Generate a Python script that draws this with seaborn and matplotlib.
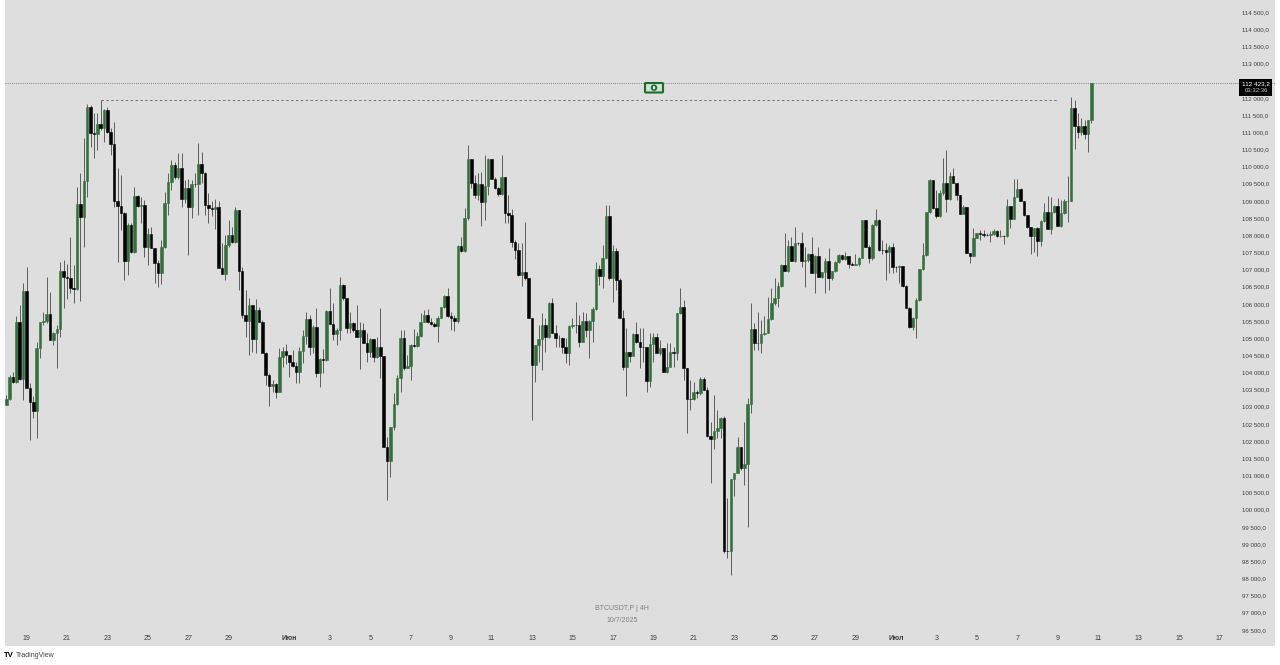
import matplotlib
matplotlib.use("Agg")
import matplotlib.pyplot as plt
import pandas as pd
import seaborn as sns
from matplotlib.patches import Ellipse, FancyBboxPatch, Rectangle

SYMBOL_TEXT = "BTCUSDT.P | 4H"
DATE_TEXT = "10/7/2025"
START = "2025-05-18"
FIRST_OPEN = 103040
LAST_PRICE = 112423.2
PREV_HIGH = 111940

closes = [
    103220, 103860, 103730, 105460, 103800, 106380, 103540, 103130, 102890, 104700,
    105460, 105510, 105700, 104950, 105140, 105260, 106960, 106770, 106760, 106450,
    106440, 108910, 108520, 109590, 111740, 110990, 110940, 111230, 111110, 111650,
    111010, 110660, 109000, 108860, 108640, 107250, 108300, 107520, 109140, 108860,
    108880, 107660, 108020, 107620, 107180, 106910, 107640, 108930, 109560, 110040,
    109700, 109950, 109040, 109360, 108810, 109490, 109480, 110070, 109800, 108880,
    108780, 108750, 108810, 107030, 106870, 107710, 107990, 107810, 108730, 106960,
    105660, 105510, 105970, 104980, 105820, 105460, 104580, 103930, 103610, 103660,
    103440, 104460, 104630, 104510, 104310, 104200, 104000, 104630, 105060, 105550,
    104750, 105330, 103970, 104380, 104360, 105790, 105410, 105110, 105240, 106550,
    106160, 105300, 105450, 105240, 105020, 105240, 104850, 104610, 104960, 104460,
    104750, 104480, 101840, 101430, 102420, 103070, 103830, 105010, 104140, 104200,
    104800, 104780, 105070, 105480, 105670, 105480, 105410, 105350, 105600, 105900,
    106230, 105650, 105600, 105500, 107680, 107550, 108490, 110210, 109510, 109170,
    109480, 108960, 109440, 110220, 109650, 109360, 109190, 109680, 108650, 108590,
    107810, 107570, 106840, 106940, 106740, 105580, 104220, 104800, 104970, 105380,
    105040, 106010, 105160, 104990, 105010, 104750, 104560, 105350, 105380, 105370,
    104900, 105510, 105240, 105510, 105840, 107000, 106810, 107340, 108570, 106740,
    107540, 106690, 105580, 104170, 104610, 104490, 105110, 104900, 104750, 104740,
    103750, 104830, 105040, 104580, 104700, 104020, 104170, 104590, 104560, 105740,
    105900, 104140, 103230, 103220, 103420, 103410, 103800, 103490, 102160, 102050,
    102300, 102370, 102660, 98810, 98800, 100890, 101080, 101840, 101210, 101330,
    103080, 105260, 104850, 104850, 105110, 105140, 105550, 106010, 106160, 106520,
    107130, 106960, 107680, 107260, 107780, 107760, 107260, 107280, 107440, 106890,
    107400, 106790, 106940, 107260, 106740, 106960, 107230, 107420, 107300, 107390,
    107150, 107130, 107170, 107340, 108440, 107660, 107320, 108300, 108440, 107570,
    107560, 107510, 107660, 107080, 107060, 107110, 106530, 105890, 105310, 105600,
    106110, 107000, 107410, 108660, 109610, 108780, 108560, 109220, 109530, 109050,
    109720, 109530, 109170, 108630, 108810, 107490, 107400, 107930, 108050, 108020,
    108010, 108000, 108030, 108130, 107980, 107980, 107970, 108850, 108470, 109120,
    109330, 109000, 108590, 108230, 107970, 108200, 107830, 108420, 108680, 108180,
    108680, 108850, 108280, 108650, 108990, 109000, 111690, 111180, 111000, 111180,
    110940, 111350, 112423.2,
]

highs = [
    103340, 103930, 104020, 105630, 105970, 106600, 107080, 103700, 103300, 104900,
    105480, 105770, 106790, 106350, 105190, 105380, 107230, 107280, 107160, 107940,
    107130, 109410, 109800, 110820, 111820, 111790, 111550, 111570, 111940, 111670,
    111720, 111110, 111310, 109950, 109750, 108680, 108340, 108340, 109410, 109160,
    109120, 109020, 108200, 108250, 107620, 107280, 107860, 109270, 109800, 110190,
    110140, 110380, 110380, 109610, 109630, 109610, 109800, 110670, 110430, 109850,
    109220, 108980, 109040, 108980, 107760, 108000, 108440, 108250, 108830, 108730,
    107080, 106400, 106160, 105970, 106130, 105920, 105530, 104610, 103970, 103780,
    103680, 104700, 104750, 104830, 104510, 104650, 104310, 104750, 105240, 105770,
    105670, 105380, 105870, 104420, 104670, 105820, 106450, 106010, 105290, 106770,
    106570, 106160, 105770, 105480, 105970, 105480, 105430, 105140, 104990, 104960,
    105040, 105870, 104480, 102130, 102420, 103390, 103930, 105240, 105240, 104510,
    104830, 105260, 105190, 105720, 105820, 105840, 105580, 105480, 105630, 105920,
    106260, 106450, 105770, 105670, 107710, 107960, 108780, 110630, 110210, 109750,
    109800, 109850, 110330, 110240, 110220, 109680, 109410, 110330, 109680, 109170,
    108750, 107860, 107760, 107760, 108380, 106740, 105580, 104800, 105380, 105720,
    105580, 106060, 106160, 105380, 105090, 105040, 104990, 105380, 105580, 106060,
    105670, 105770, 105720, 105530, 105920, 107230, 107130, 107710, 108880, 108880,
    107710, 107620, 106740, 105820, 105290, 104610, 105140, 105480, 105290, 105290,
    104750, 105140, 105140, 105140, 104950, 104700, 104850, 104850, 104750, 105740,
    106450, 106110, 104140, 103780, 103730, 103490, 103880, 103880, 103590, 102570,
    103340, 102910, 102710, 102730, 100330, 100890, 101080, 102130, 101840, 102570,
    103250, 106010, 105430, 105770, 105530, 105630, 106210, 106450, 106740, 106640,
    107160, 108050, 107860, 107940, 108230, 107810, 108100, 107660, 107470, 107940,
    107420, 107640, 106940, 107320, 107620, 106960, 107260, 107440, 107420, 107500,
    107390, 107230, 107450, 107370, 108440, 108440, 107710, 108320, 108750, 108460,
    107860, 107760, 107710, 107760, 107100, 107130, 107110, 106550, 105920, 105620,
    106160, 107000, 107760, 108680, 109650, 109610, 109310, 109310, 110240, 110480,
    109850, 109950, 109530, 109170, 108880, 108830, 107490, 108200, 108070, 108150,
    108150, 108050, 108130, 108170, 108150, 108150, 108000, 109040, 108850, 109650,
    109650, 109360, 109000, 108590, 108230, 108200, 108230, 108440, 108930, 109140,
    109120, 108880, 109070, 109020, 109040, 109720, 112010, 111940, 111550, 111400,
    111340, 111350, 112423.2,
]

lows = [
    103040, 103200, 103700, 103680, 103780, 103200, 103540, 102030, 102660, 102080,
    104410, 105380, 105430, 104950, 104800, 104120, 105040, 105870, 106130, 106310,
    106030, 106400, 106090, 107660, 109120, 110580, 110240, 110480, 111060, 110700,
    110970, 110330, 108830, 107230, 108150, 106690, 106840, 107470, 107470, 108830,
    108340, 107370, 107130, 107620, 106620, 106480, 106580, 107620, 108590, 109310,
    109650, 109650, 108810, 108930, 107420, 108490, 109410, 108590, 109510, 108590,
    108340, 108560, 108170, 107030, 106870, 106690, 107660, 107760, 107760, 106400,
    105580, 105040, 104510, 104610, 104560, 105460, 104560, 103640, 103020, 103440,
    103250, 103420, 104170, 104250, 103860, 104170, 103680, 103680, 104270, 104830,
    104510, 104560, 103880, 103590, 103970, 104340, 105410, 104950, 104800, 104950,
    106110, 105160, 105160, 105190, 105020, 104090, 104850, 104310, 104460, 104310,
    104410, 103830, 101840, 100280, 100960, 102320, 103050, 103440, 104070, 104120,
    103780, 104750, 104750, 105040, 105480, 105450, 105380, 105310, 104900, 105580,
    105870, 105620, 105240, 105220, 105430, 107520, 107520, 108440, 109360, 109070,
    109020, 108270, 108440, 109170, 109630, 109330, 109140, 109170, 108340, 108340,
    107660, 107300, 106810, 106520, 106690, 105580, 102620, 103730, 104310, 104070,
    104610, 104990, 105140, 104750, 104750, 104560, 104270, 104220, 105290, 105140,
    104750, 104900, 105040, 104410, 104900, 105820, 106550, 106450, 107320, 106690,
    106060, 106400, 105580, 104070, 103300, 104310, 104510, 104850, 104120, 104310,
    103440, 103590, 104310, 104560, 104510, 104020, 103970, 104170, 104170, 104360,
    105700, 103780, 102230, 102910, 103200, 103250, 103340, 103490, 102130, 100770,
    101760, 102080, 102080, 98730, 98590, 98100, 100400, 101060, 101160, 100720,
    99510, 102830, 104640, 104650, 104560, 105090, 105140, 105530, 105960, 105920,
    106500, 106960, 106940, 107260, 107230, 107710, 107080, 106500, 107230, 106890,
    106320, 106790, 106740, 106300, 106400, 106690, 106940, 107200, 107290, 107270,
    107030, 107120, 107130, 107100, 107320, 107640, 107180, 107270, 108260, 107550,
    107450, 106690, 106890, 106890, 106940, 106600, 106500, 105870, 105290, 105240,
    104990, 106090, 106980, 107390, 108650, 108760, 108490, 108540, 109170, 108680,
    109020, 109510, 109020, 108630, 108610, 107470, 107200, 107390, 107910, 107860,
    107950, 107970, 107810, 108000, 107950, 107950, 107740, 107950, 108200, 108470,
    109100, 108990, 108560, 108200, 107450, 107520, 107390, 107680, 108390, 108170,
    108030, 108650, 108270, 108250, 108630, 108390, 108990, 110500, 110820, 110920,
    110790, 110430, 111260,
]

y_ticks = [114500 - 500 * n for n in range(37)]
# 112 500,0 sits under the price tag in the original
y_labels = ["" if v == 112500 else f"{v // 1000} {v % 1000:03d},0" for v in y_ticks]

tick_dates = [
    "2025-05-19", "2025-05-21", "2025-05-23", "2025-05-25", "2025-05-27", "2025-05-29",
    "2025-06-01", "2025-06-03", "2025-06-05", "2025-06-07", "2025-06-09", "2025-06-11",
    "2025-06-13", "2025-06-15", "2025-06-17", "2025-06-19", "2025-06-21", "2025-06-23",
    "2025-06-25", "2025-06-27", "2025-06-29", "2025-07-01", "2025-07-03", "2025-07-05",
    "2025-07-07", "2025-07-09", "2025-07-11", "2025-07-13", "2025-07-15", "2025-07-17",
]
tick_labels = [
    "19", "21", "23", "25", "27", "29", "Июн", "3", "5", "7", "9", "11", "13", "15", "17",
    "19", "21", "23", "25", "27", "29", "Июл", "3", "5", "7", "9", "11", "13", "15", "17",
]

GREEN = "#33703c"
W, H = 1280, 665


def fx(x):
    return x / W


def fy(y):
    return 1 - y / H


def main():
    sns.set_theme(style="white", rc={"axes.facecolor": "#dedede", "figure.facecolor": "white"})
    plt.rcParams["font.family"] = ["Liberation Sans", "DejaVu Sans"]

    opens = [FIRST_OPEN] + closes[:-1]
    df = pd.DataFrame({"open": opens, "high": highs, "low": lows, "close": closes})
    df["slot"] = range(len(df))
    df["bottom"] = df[["open", "close"]].min(axis=1)
    df["body"] = (df["close"] - df["open"]).abs()
    up = df[df["close"] >= df["open"]]
    down = df[df["close"] < df["open"]]

    fig = plt.figure(figsize=(W / 100, H / 100), dpi=100)
    ax = fig.add_axes([fx(5), fy(646), 1270 / W, 646 / H])

    ax.vlines(df["slot"], df["low"], df["high"], color="#3a3a3a", linewidth=0.55, zorder=1)
    sns.barplot(data=up, x="slot", y="body", bottom=up["bottom"].values, native_scale=True,
                color=GREEN, saturation=1, width=0.76, errorbar=None,
                edgecolor=GREEN, linewidth=0.4, ax=ax, zorder=2)
    sns.barplot(data=down, x="slot", y="body", bottom=down["bottom"].values, native_scale=True,
                color="black", saturation=1, width=0.76, errorbar=None,
                edgecolor="black", linewidth=0.4, ax=ax, zorder=2)

    ax.axhline(LAST_PRICE, color="#808080", linestyle=(0, (1, 1.2)), linewidth=0.7, zorder=0)
    ax.hlines(PREV_HIGH, 28, 312, color="#707070", linestyle=(0, (2.5, 2.5)), linewidth=0.7, zorder=0)

    ax.set_xlim(-0.386, 376.5)
    ax.set_ylim(96031, 114850)
    ax.set_xlabel("")
    ax.set_ylabel("")

    start = pd.Timestamp(START)
    ax.set_xticks([(pd.Timestamp(d) - start) / pd.Timedelta(hours=4) for d in tick_dates])
    ax.set_xticklabels(tick_labels, fontsize=5.0, color="#3c3c3c")
    ax.tick_params(axis="x", bottom=False, length=0, pad=-7.6)
    for lab in ax.get_xticklabels():
        if not lab.get_text().isdigit():
            lab.set_fontweight("bold")

    ax.yaxis.tick_right()
    ax.set_yticks(y_ticks)
    ax.set_yticklabels(y_labels, fontsize=4.4, color="#3c3c3c")
    ax.tick_params(axis="y", right=False, left=False, length=0, pad=-23.6)
    for lab in ax.get_yticklabels():
        lab.set_ha("left")

    for spine in ax.spines.values():
        spine.set_visible(False)

    # price tag on the right
    fig.add_artist(Rectangle((fx(1239), fy(96)), 33 / W, 17 / H, transform=fig.transFigure,
                             facecolor="black", edgecolor="none", zorder=5))
    fig.text(fx(1256), fy(84), "112 423,2", color="white", fontsize=4.6, ha="center", va="center", zorder=6)
    fig.text(fx(1256), fy(91), "03:32:36", color="#cccccc", fontsize=4.3, ha="center", va="center", zorder=6)

    # small banknote marker on the level
    fig.add_artist(FancyBboxPatch((fx(645), fy(92.5)), 18 / W, 9.5 / H, transform=fig.transFigure,
                                  boxstyle="round,pad=0,rounding_size=0.001", facecolor="#cfe3d4",
                                  edgecolor="#1e6b2e", linewidth=1.5, zorder=5))
    fig.add_artist(Ellipse((fx(654), fy(87.7)), 6.5 / W, 6.5 / H, transform=fig.transFigure,
                           facecolor="#1e6b2e", edgecolor="none", zorder=6))
    fig.add_artist(Ellipse((fx(654), fy(87.7)), 2.4 / W, 3.4 / H, transform=fig.transFigure,
                           facecolor="#e6f0e8", edgecolor="none", zorder=7))

    fig.text(fx(622), fy(608), SYMBOL_TEXT, color="#808080", fontsize=5.0, ha="center", va="center")
    fig.text(fx(622), fy(620), DATE_TEXT, color="#808080", fontsize=5.0, ha="center", va="center")

    fig.text(fx(4), fy(655.5), "TV", color="black", fontsize=5.6, fontweight="bold", ha="left", va="center")
    fig.text(fx(15.5), fy(655.5), "TradingView", color="#444444", fontsize=5.0, ha="left", va="center")

    fig.savefig("out.png", dpi=100)
    plt.close(fig)


if __name__ == "__main__":
    main()
